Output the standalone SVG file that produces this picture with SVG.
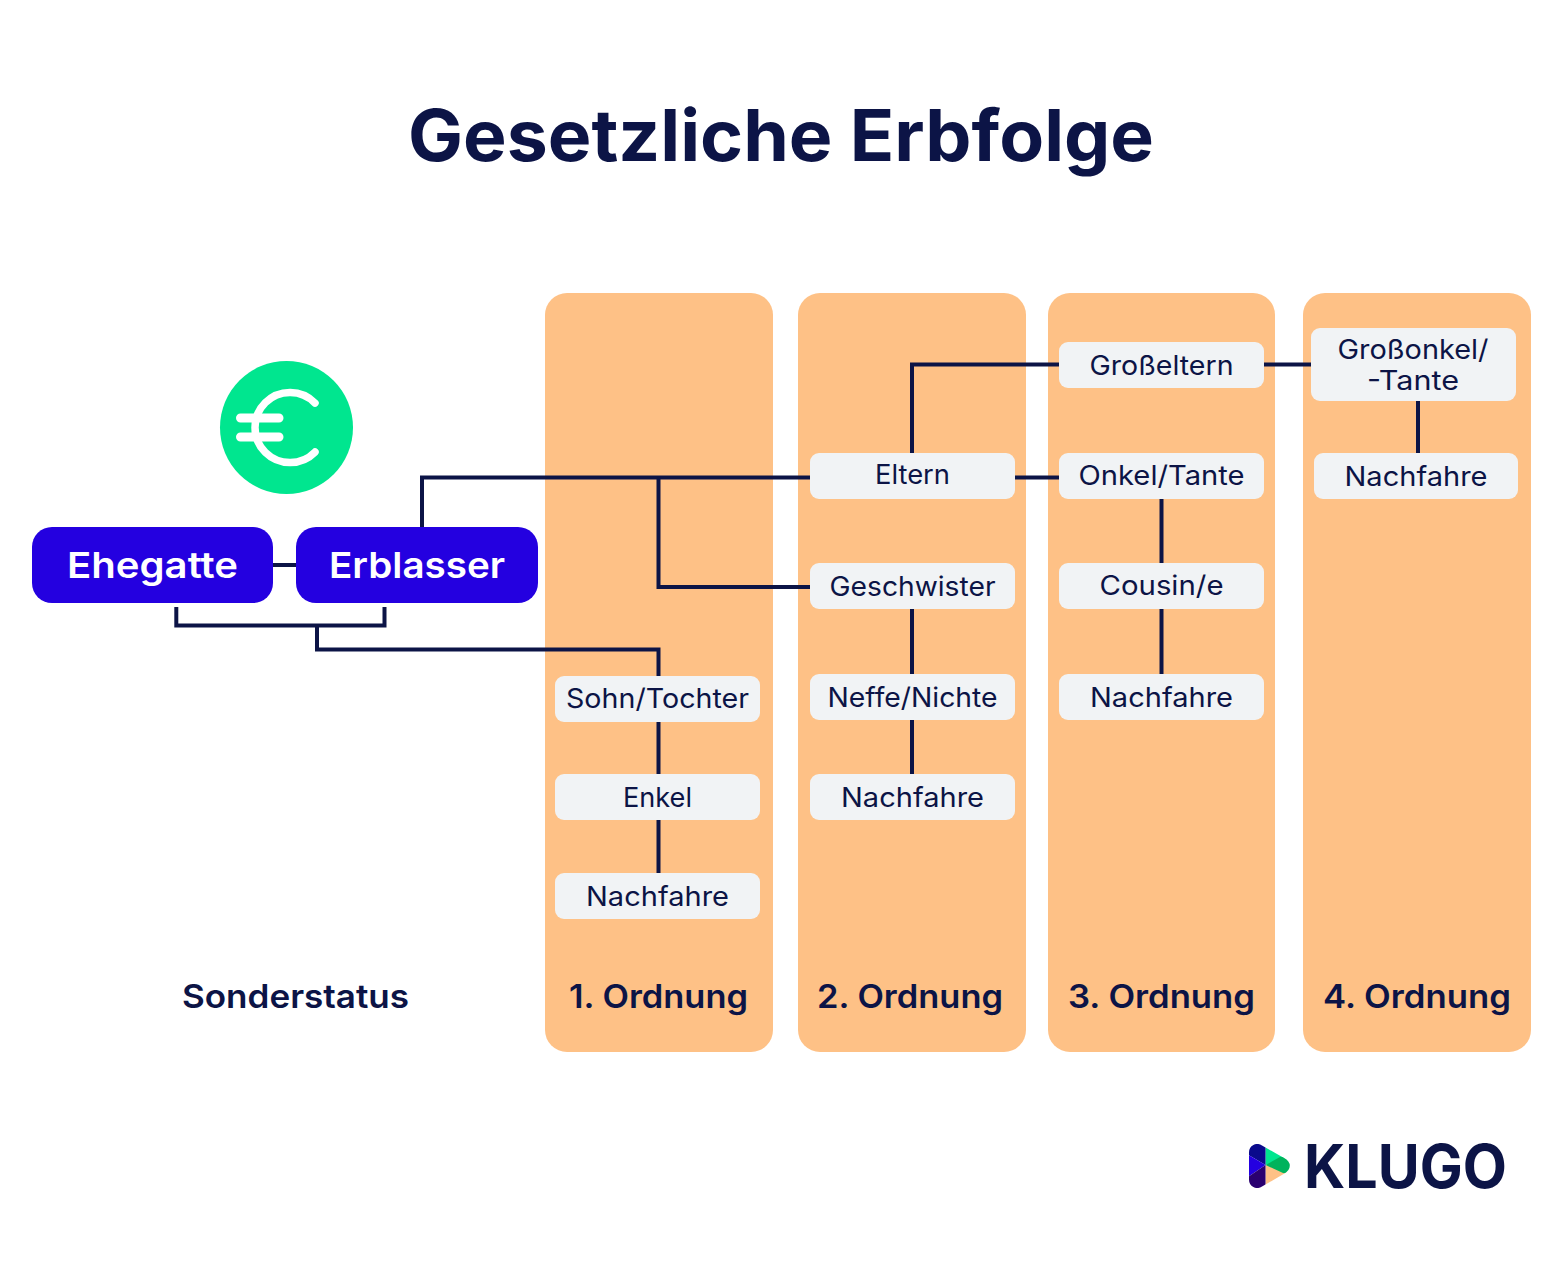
<svg xmlns="http://www.w3.org/2000/svg" width="1564" height="1263" viewBox="0 0 1564 1263">
<style>
text{font-family:"Inter","Liberation Sans",sans-serif;fill:#0c1446;text-anchor:middle}
.col{fill:#fec186}
.box{fill:#f1f3f5}
.blue{fill:#2400e0}
.t{font-size:27px;font-weight:400}
.h{font-size:33px;font-weight:600}
.w{font-size:36px;font-weight:600;fill:#fff}
.c{fill:none;stroke:#0c1446;stroke-width:4}
</style>
<defs>
<clipPath id="mark"><path d="M1249 1152.500A8.300 8.300 0 0 1 1262 1145.500L1284 1158Q1289.800 1161 1289.800 1165.800Q1289.800 1170.500 1284 1173.800L1262 1186.500A8.300 8.300 0 0 1 1249 1179.500Z"/></clipPath>
</defs>
<rect width="1564" height="1263" fill="#fff"/>
<text x="781" y="161" font-size="71" font-weight="700" textLength="746" lengthAdjust="spacingAndGlyphs">Gesetzliche Erbfolge</text>
<g id="columns">
<rect class="col" x="545" y="293" width="228" height="759" rx="22"/>
<rect class="col" x="798" y="293" width="228" height="759" rx="22"/>
<rect class="col" x="1048" y="293" width="227" height="759" rx="22"/>
<rect class="col" x="1303" y="293" width="228" height="759" rx="22"/>
</g>
<g id="connectors" class="c">
<path class="c" d="M273 565H296"/>
<path class="c" d="M422 527V477.500H810M658.500 477.500V587H810"/>
<path class="c" d="M912 453V364.500H1059M1264 364.500H1311M1015 477.500H1059"/>
<path class="c" d="M1161.500 499V563M1161.500 609V674"/>
<path class="c" d="M912 609V674M912 720V774"/>
<path class="c" d="M658.500 722V774M658.500 820V873"/>
<path class="c" d="M1418 401V453"/>
<path class="c" d="M176.300 607V625.500H384.500V607M317 625.500V649.500H658.500V676"/>
</g>
<g id="euro">
<circle cx="286.500" cy="427.500" r="66.500" fill="#00e68f"/>
<path d="M315 403A35 35 0 1 0 315 452" fill="none" stroke="#fff" stroke-width="7.500" stroke-linecap="round"/>
<path d="M240.500 418H279M240.500 437H279" fill="none" stroke="#fff" stroke-width="9" stroke-linecap="round"/>
</g>
<g id="ehegatte"><rect class="blue" x="32" y="527" width="241" height="76" rx="20"/><text class="w" x="152.500" y="578" textLength="171" lengthAdjust="spacingAndGlyphs">Ehegatte</text></g>
<g id="erblasser"><rect class="blue" x="296" y="527" width="242" height="76" rx="20"/><text class="w" x="417" y="578" textLength="176" lengthAdjust="spacingAndGlyphs">Erblasser</text></g>
<g id="sohn"><rect class="box" x="555" y="676" width="205" height="46" rx="9"/><text class="t" x="657.500" y="708" textLength="183" lengthAdjust="spacingAndGlyphs">Sohn/Tochter</text></g>
<g id="enkel"><rect class="box" x="555" y="774" width="205" height="46" rx="9"/><text class="t" x="657.500" y="807" textLength="69" lengthAdjust="spacingAndGlyphs">Enkel</text></g>
<g id="nachfahre1"><rect class="box" x="555" y="873" width="205" height="46" rx="9"/><text class="t" x="657.500" y="906" textLength="143" lengthAdjust="spacingAndGlyphs">Nachfahre</text></g>
<g id="eltern"><rect class="box" x="810" y="453" width="205" height="46" rx="9"/><text class="t" x="912.500" y="484" textLength="75" lengthAdjust="spacingAndGlyphs">Eltern</text></g>
<g id="geschwister"><rect class="box" x="810" y="563" width="205" height="46" rx="9"/><text class="t" x="912.500" y="596" textLength="166" lengthAdjust="spacingAndGlyphs">Geschwister</text></g>
<g id="neffe"><rect class="box" x="810" y="674" width="205" height="46" rx="9"/><text class="t" x="912.500" y="707" textLength="170" lengthAdjust="spacingAndGlyphs">Neffe/Nichte</text></g>
<g id="nachfahre2"><rect class="box" x="810" y="774" width="205" height="46" rx="9"/><text class="t" x="912.500" y="807" textLength="143" lengthAdjust="spacingAndGlyphs">Nachfahre</text></g>
<g id="grosseltern"><rect class="box" x="1059" y="342" width="205" height="46" rx="9"/><text class="t" x="1161.500" y="375" textLength="144" lengthAdjust="spacingAndGlyphs">Großeltern</text></g>
<g id="onkel"><rect class="box" x="1059" y="453" width="205" height="46" rx="9"/><text class="t" x="1161.500" y="485" textLength="166" lengthAdjust="spacingAndGlyphs">Onkel/Tante</text></g>
<g id="cousin"><rect class="box" x="1059" y="563" width="205" height="46" rx="9"/><text class="t" x="1161.500" y="595" textLength="124" lengthAdjust="spacingAndGlyphs">Cousin/e</text></g>
<g id="nachfahre3"><rect class="box" x="1059" y="674" width="205" height="46" rx="9"/><text class="t" x="1161.500" y="707" textLength="143" lengthAdjust="spacingAndGlyphs">Nachfahre</text></g>
<g id="grossonkel"><rect class="box" x="1311" y="328" width="205" height="73" rx="9"/><text class="t" x="1413" y="359" textLength="151" lengthAdjust="spacingAndGlyphs">Großonkel/</text><text class="t" x="1413" y="390" textLength="92" lengthAdjust="spacingAndGlyphs">-Tante</text></g>
<g id="nachfahre4"><rect class="box" x="1314" y="453" width="204" height="46" rx="9"/><text class="t" x="1416" y="486" textLength="143" lengthAdjust="spacingAndGlyphs">Nachfahre</text></g>
<g id="labels">
<text class="h" x="295.500" y="1008" textLength="227" lengthAdjust="spacingAndGlyphs">Sonderstatus</text>
<text class="h" x="658.500" y="1008" textLength="179" lengthAdjust="spacingAndGlyphs">1. Ordnung</text>
<text class="h" x="910" y="1008" textLength="186" lengthAdjust="spacingAndGlyphs">2. Ordnung</text>
<text class="h" x="1161.500" y="1008" textLength="187" lengthAdjust="spacingAndGlyphs">3. Ordnung</text>
<text class="h" x="1417" y="1008" textLength="188" lengthAdjust="spacingAndGlyphs">4. Ordnung</text>
</g>
<g id="logo">
<g clip-path="url(#mark)">
<path d="M1265.500 1140H1295V1155L1265.500 1165Z" fill="#00e68f"/>
<path d="M1265.500 1165L1295 1175V1195H1265.500Z" fill="#fec186"/>
<path d="M1265.500 1165L1280 1157L1295 1155V1175L1283 1173Z" fill="#00b35c"/>
<path d="M1245 1140H1265.500V1165L1245 1153Z" fill="#0a0a8c"/>
<path d="M1245 1153L1265.500 1165L1245 1179Z" fill="#2400e0"/>
<path d="M1245 1179L1265.500 1165V1195H1245Z" fill="#2a0070"/>
</g>
<text x="1405.500" y="1188" font-size="60" font-weight="700" textLength="203" lengthAdjust="spacingAndGlyphs">KLUGO</text>
</g>
</svg>
